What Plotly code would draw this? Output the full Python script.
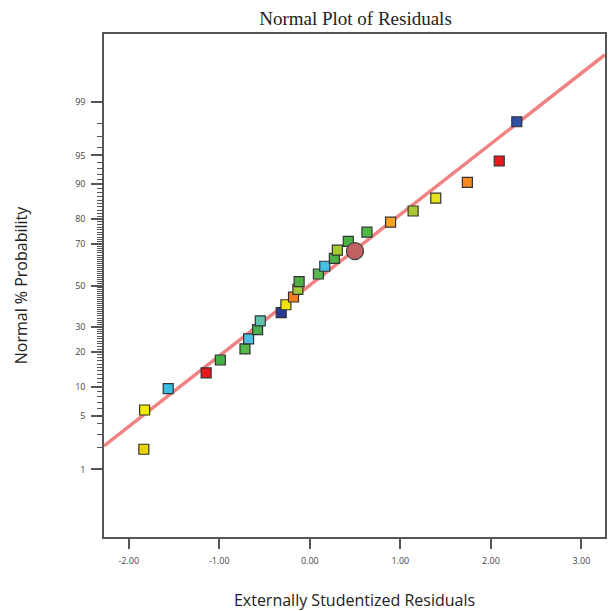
import plotly.graph_objects as go
from statistics import NormalDist

# ---- data ----
residuals = [-1.833, -1.825, -1.564, -1.145, -0.988, -0.716, -0.676, -0.577, -0.547,
             -0.316, -0.264, -0.180, -0.132, -0.118, 0.095, 0.165, 0.271, 0.304,
             0.425, 0.631, 0.892, 1.141, 1.391, 1.740, 2.092, 2.286]
probabilities = [1.92, 5.77, 9.62, 13.46, 17.31, 21.15, 25.0, 28.85, 32.69,
                 36.54, 40.38, 44.23, 48.08, 51.92, 55.77, 59.62, 63.46, 67.31,
                 71.15, 75.0, 78.85, 82.69, 86.54, 90.38, 94.23, 98.08]
point_colors = ["#e8d400", "#f2ea00", "#38bde6", "#e8161e", "#46b048", "#52b84a",
                "#4cc0e2", "#48b04e", "#62c2b0", "#2a3a98", "#f0e40c", "#f28020",
                "#a2c832", "#4eb044", "#56b84e", "#46c0e2", "#4eb046", "#a6cc32",
                "#48b042", "#50b844", "#f8a41e", "#a8c832", "#e6e41e", "#f88a1e",
                "#e81a20", "#3050a6"]
highlight_residual = [0.499]
highlight_probability = [66.82]

line_slope = 0.894
line_intercept = 0.004

major_probs = [1, 5, 10, 20, 30, 50, 70, 80, 90, 95, 99]
minor_probs = [p for p in range(2, 99) if p not in major_probs]
x_ticks = [-2, -1, 0, 1, 2, 3]

nd = NormalDist()
def z(p):
    return nd.inv_cdf(p / 100.0)

x_range = [-2.273, 3.260]
y_range = [-3.18, 3.18]

fig = go.Figure()

# fitted normal line
fig.add_trace(go.Scatter(
    x=x_range,
    y=[line_slope * v + line_intercept for v in x_range],
    mode="lines", line=dict(color="#f08282", width=3.5),
    hoverinfo="skip", showlegend=False))

fig.add_trace(go.Scatter(
    x=residuals, y=[z(p) for p in probabilities],
    mode="markers",
    marker=dict(symbol="square", size=10, color=point_colors,
                line=dict(color="#333333", width=1.2)),
    showlegend=False))

fig.add_trace(go.Scatter(
    x=highlight_residual, y=[z(p) for p in highlight_probability],
    mode="markers",
    marker=dict(symbol="circle", size=17, color="#c06060",
                line=dict(color="#444444", width=1.2)),
    showlegend=False))

fig.update_layout(
    width=608, height=611,
    margin=dict(l=104, r=1, t=34, b=74),
    paper_bgcolor="white", plot_bgcolor="white",
    title=dict(text="Normal Plot of Residuals", x=355.5 / 608, xanchor="center",
               y=1 - 18 / 611, yanchor="middle",
               font=dict(family="Liberation Serif", size=19, color="#222222")),
    font=dict(family="Open Sans", color="#333333"),
)

fig.update_xaxes(
    range=x_range, showgrid=False, zeroline=False,
    showline=True, mirror=True, linecolor="#555555", linewidth=1.5,
    ticks="outside", ticklen=10, tickwidth=1.5, tickcolor="#555555",
    tickmode="array", tickvals=x_ticks, ticktext=["%.2f" % v for v in x_ticks],
    tickfont=dict(size=9, color="#444444"), ticklabelstandoff=4,
    title=dict(text="Externally Studentized Residuals", standoff=30,
               font=dict(family="Open Sans", size=16, color="#222222")))

fig.update_yaxes(
    range=y_range, showgrid=False, zeroline=False,
    showline=True, mirror=True, linecolor="#555555", linewidth=1.5,
    ticks="outside", ticklen=11, tickwidth=1.5, tickcolor="#555555",
    tickmode="array", tickvals=[z(p) for p in major_probs],
    ticktext=[str(p) for p in major_probs],
    tickfont=dict(size=9, color="#444444"), ticklabelstandoff=4,
    minor=dict(tickmode="array", tickvals=[z(p) for p in minor_probs],
               ticks="outside", ticklen=5, tickwidth=1, tickcolor="#555555",
               showgrid=False),
    title=dict(text="Normal % Probability", standoff=44,
               font=dict(family="Open Sans", size=16, color="#222222")))

fig.write_html("out.html")
